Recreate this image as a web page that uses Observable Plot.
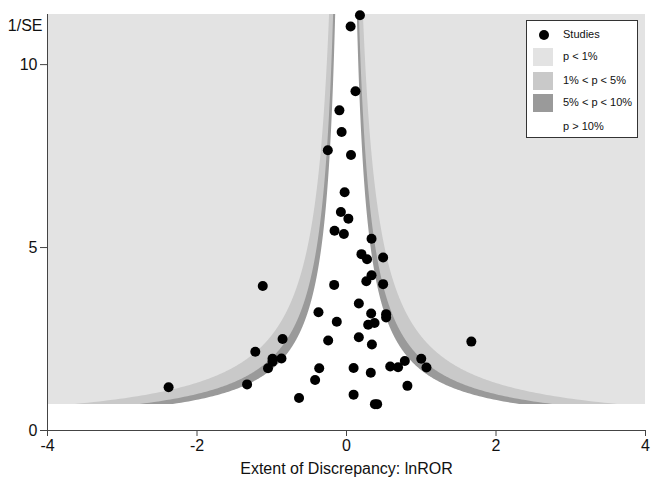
<!DOCTYPE html>
<html><head><meta charset="utf-8">
<script src="https://cdn.jsdelivr.net/npm/d3@7"></script>
<script src="https://cdn.jsdelivr.net/npm/@observablehq/plot@0.6"></script>
<style>
body{margin:0;background:#fff;font-family:"Liberation Sans",Arial,sans-serif;}
#wrap{position:relative;width:656px;height:485px;}
#legend{position:absolute;left:526px;top:20px;width:112px;height:118px;border:1px solid #333;background:#fff;box-sizing:border-box;font-size:11px;color:#111;}
.sw{position:absolute;left:6px;width:20px;height:18px;}
.lt{position:absolute;left:36px;line-height:14px;white-space:nowrap;}
.dot{position:absolute;left:12px;width:10px;height:10px;border-radius:50%;background:#000;}
</style></head>
<body><div id="wrap"></div>
<script>
// Study estimates: lnROR (x) and precision 1/SE (y)
const lnROR = [0.18,0.055,0.12,-0.095,-0.065,-0.25,0.06,-0.025,-0.075,0.025,-0.16,-0.035,0.335,0.2,0.275,0.49,
  -1.12,-0.165,0.335,0.265,0.49,0.165,0.33,0.53,0.53,-0.375,-0.13,0.29,0.375,-0.855,-0.245,0.165,0.34,
  -1.22,-0.99,-0.99,-0.87,-1.05,-1.33,-0.365,-0.42,0.095,0.325,0.585,0.69,0.78,1.0,1.07,0.815,-0.635,0.095,0.38,0.41,-2.38,1.67];
const invSE = [11.35,11.04,9.27,8.75,8.16,7.66,7.53,6.51,5.97,5.79,5.46,5.37,5.24,4.82,4.68,4.73,
  3.95,3.98,4.24,4.08,4.0,3.47,3.2,3.18,3.09,3.23,2.97,2.89,2.94,2.5,2.46,2.55,2.35,
  2.15,1.96,1.88,1.97,1.7,1.26,1.7,1.38,1.71,1.58,1.75,1.73,1.9,1.96,1.72,1.22,0.89,0.98,0.72,0.72,1.18,2.43];
// Contour critical z values and fills (p = 1%, 5%, 10%)
const zCrit = [2.576, 1.96, 1.645];
const bandFill = ["#c9c9c9", "#9a9a9a", "#ffffff"];
const outerFill = "#e3e3e3";
const xDomain = [-4, 4];
const yDomain = [0, 11.37];
const shadeY = [0.71, 11.37];
const xTicks = [-4, -2, 0, 2, 4];
const yTicks = [0, 5, 10];

const studies = lnROR.map((x, i) => ({x, y: invSE[i]}));
const n = 600;
const ys = d3.range(n + 1).map(i => shadeY[0] + (shadeY[1] - shadeY[0]) * i / n);
const bands = zCrit.map((z, k) => ys.map(y => ({y, x1: -z / y, x2: z / y, k})));
const axisColor = "#444";

const plot = Plot.plot({
  width: 656, height: 485,
  marginLeft: 47, marginRight: 11, marginTop: 14, marginBottom: 55,
  style: {fontFamily: "Liberation Sans, Arial, sans-serif", background: "#fff"},
  x: {domain: xDomain},
  y: {domain: yDomain},
  marks: [
    Plot.rect([{x1: xDomain[0], x2: xDomain[1], y1: shadeY[0], y2: shadeY[1]}], {x1: "x1", x2: "x2", y1: "y1", y2: "y2", fill: outerFill}),
    ...bands.map((b, k) => Plot.areaX(b, {y: "y", x1: "x1", x2: "x2", fill: bandFill[k]})),
    Plot.dot(studies, {x: "x", y: "y", r: 5, fill: "#000"}),
    Plot.ruleY([0], {x1: xDomain[0], x2: xDomain[1], stroke: axisColor}),
    Plot.ruleX([xDomain[0]], {y1: yDomain[0], y2: yDomain[1], stroke: axisColor}),
    Plot.axisX({ticks: xTicks, tickFormat: d => String(d), tickSize: 6, tickPadding: 3, fontSize: 16, label: null, stroke: axisColor, color: "#111"}),
    Plot.axisY({ticks: yTicks, tickFormat: d => String(d), tickSize: 7, tickPadding: 3, fontSize: 16, label: null, stroke: axisColor, color: "#111"}),
    Plot.text(["1/SE"], {frameAnchor: "top-left", dx: -5, dy: 11, textAnchor: "end", lineAnchor: "middle", fontSize: 16, fill: "#111"}),
    Plot.text(["Extent of Discrepancy: lnROR"], {frameAnchor: "bottom", dy: 38, lineAnchor: "middle", fontSize: 16, fill: "#111"})
  ]
});
const wrap = document.getElementById("wrap");
wrap.appendChild(plot);

const legendItems = [
  {label: "Studies", type: "dot"},
  {label: "p < 1%", type: "sw", fill: outerFill},
  {label: "1% < p < 5%", type: "sw", fill: bandFill[0]},
  {label: "5% < p < 10%", type: "sw", fill: bandFill[1]},
  {label: "p > 10%", type: "sw", fill: bandFill[2]}
];
const lg = document.createElement("div");
lg.id = "legend";
const rowY = [14, 36, 60, 82, 106];
legendItems.forEach((it, i) => {
  const cy = rowY[i];
  if (it.type === "dot") {
    const d = document.createElement("div"); d.className = "dot"; d.style.top = (cy - 5) + "px"; lg.appendChild(d);
  } else {
    const s = document.createElement("div"); s.className = "sw"; s.style.top = (cy - 9) + "px"; s.style.background = it.fill; lg.appendChild(s);
  }
  const t = document.createElement("div"); t.className = "lt"; t.style.top = (cy - 8) + "px"; t.textContent = it.label; lg.appendChild(t);
});
wrap.appendChild(lg);
</script></body></html>
